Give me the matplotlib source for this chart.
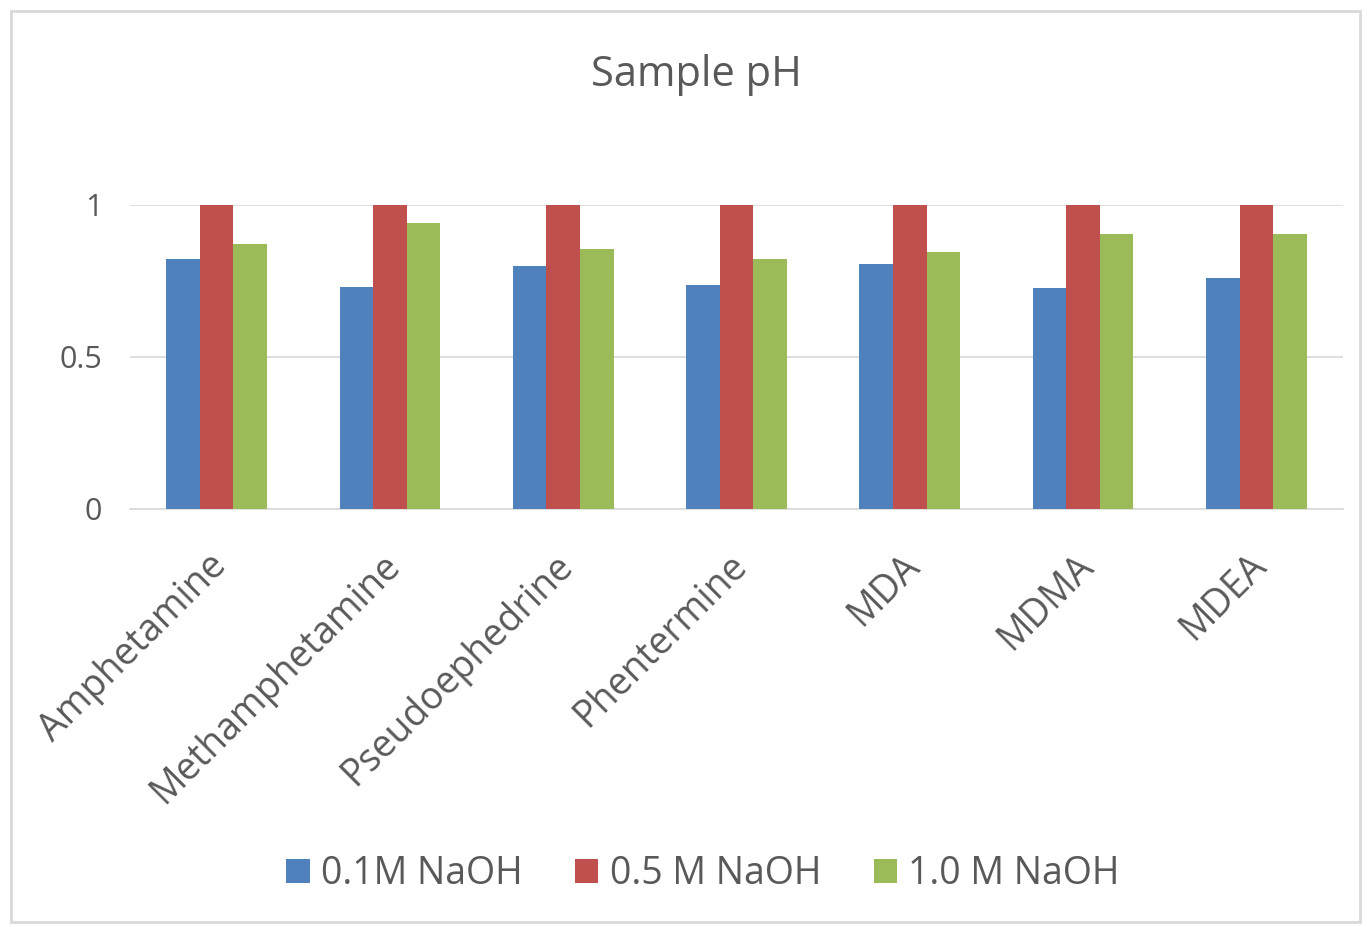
import matplotlib
matplotlib.use("Agg")
import matplotlib.pyplot as plt
import matplotlib.transforms as mtransforms
import numpy as np
from matplotlib.patches import Rectangle

categories = ["Amphetamine", "Methamphetamine", "Pseudoephedrine", "Phentermine", "MDA", "MDMA", "MDEA"]
series_names = ["0.1M NaOH", "0.5 M NaOH", "1.0 M NaOH"]
naoh_01 = [0.821, 0.731, 0.799, 0.737, 0.805, 0.726, 0.759]
naoh_05 = [1.0, 1.0, 1.0, 1.0, 1.0, 1.0, 1.0]
naoh_10 = [0.872, 0.940, 0.854, 0.821, 0.844, 0.906, 0.906]
yticks = [0, 0.5, 1]
ytick_labels = ["0", "0.5", "1"]

colors = ["#4F81BD", "#C0504D", "#9BBB59"]
text_color = "#595959"
plt.rcParams['font.family'] = ['Open Sans', 'DejaVu Sans']

fig = plt.figure(figsize=(13.67, 9.27), dpi=100)
W, H = 1367, 927
# outer frame
fig.patches.append(Rectangle((11/W, 1 - 922/H), (1360-11)/W, (922-11)/H, transform=fig.transFigure,
                             fill=False, edgecolor="#D9D9D9", linewidth=2))

ax = fig.add_axes([130/W, 1 - 509/H, (1343-130)/W, (509-205)/H])
x = np.arange(len(categories))
bw = 0.194
for i, (vals, c, name) in enumerate(zip([naoh_01, naoh_05, naoh_10], colors, series_names)):
    ax.bar(x + (i - 1) * bw, vals, width=bw, color=c, label=name, zorder=3)

ax.set_xlim(-0.5, len(categories) - 0.5)
ax.set_ylim(0, 1)
ax.set_yticks(yticks)
ax.set_yticklabels(ytick_labels, fontsize=22, color=text_color)
ax.yaxis.grid(True, color="#D9D9D9", linewidth=1.2, zorder=0)
for s in ["top", "right", "left"]:
    ax.spines[s].set_visible(False)
ax.spines["bottom"].set_color("#D9D9D9")
ax.spines["bottom"].set_linewidth(1.2)
ax.tick_params(axis="y", length=0, pad=20)
ax.tick_params(axis="x", length=0, pad=22)
ax.set_xticks(x)
ax.set_xticklabels(categories, rotation=45, ha="right", rotation_mode="anchor",
                   fontsize=27, color=text_color)
offset = mtransforms.ScaledTranslation(-9/100, -7/100, fig.dpi_scale_trans)
for lbl in ax.get_xticklabels():
    lbl.set_transform(lbl.get_transform() + offset)

fig.text(696/W, 1 - 75/H, "Sample pH", ha="center", va="center", fontsize=30, color=text_color)

leg = fig.legend(loc="center", bbox_to_anchor=(703/W, 1 - 874/H), ncol=3, frameon=False,
                 fontsize=27, handlelength=0.62, handleheight=0.62, handletextpad=0.3,
                 columnspacing=1.4, labelcolor=text_color)

fig.savefig("out.png", dpi=100)
